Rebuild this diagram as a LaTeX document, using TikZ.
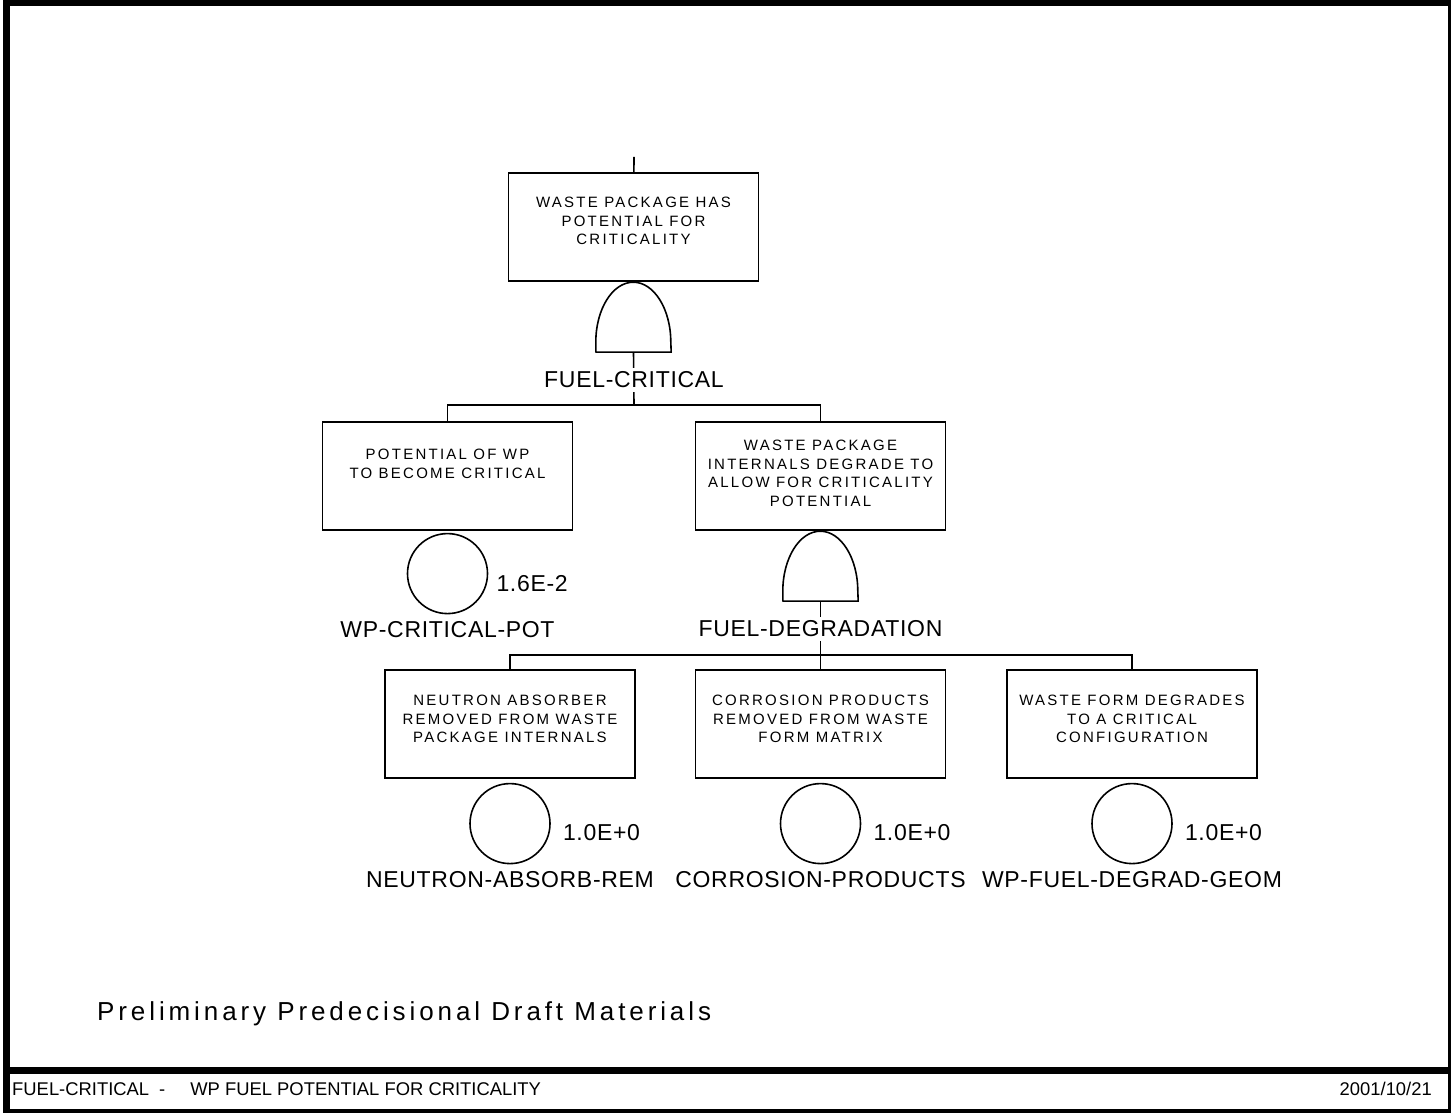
\documentclass[tikz,border=0pt]{standalone}
\usepackage{fontspec}
\setmainfont{Liberation Sans}
\newfontfamily\boxfont[LetterSpace=15]{Liberation Sans}
\newfontfamily\tagfont[LetterSpace=3]{Liberation Sans}
\newfontfamily\draftfont[LetterSpace=15]{Liberation Sans}
\usetikzlibrary{positioning,backgrounds}

\begin{document}
\begin{tikzpicture}[x=1pt,y=1pt,
    evbox/.style={draw, line width=1.6pt, minimum width=250pt, minimum height=108pt, inner sep=0pt},
    gatebox/.style={minimum width=75pt, minimum height=70pt, inner sep=0pt},
    gateline/.style={draw, line width=1.6pt, line join=round},
    basic/.style={draw, circle, line width=1.6pt, minimum size=80pt, inner sep=0pt},
    boxtext/.style={font=\boxfont\fontsize{15}{18.5}\selectfont, align=center, inner sep=0pt},
    tag/.style={font=\tagfont\fontsize{23}{26}\selectfont, fill=white, inner sep=4pt},
    prob/.style={font=\tagfont\fontsize{23}{26}\selectfont, inner sep=0pt},
    sheet/.style={font=\fontsize{18.4}{20}\selectfont, inner sep=0pt},
    wire/.style={line width=1.6pt},
    frame/.style={line width=7pt}]
  \useasboundingbox (0,0) rectangle (1451,1112);

  % sheet frame and footer
  \draw[frame] (6.5,0) rectangle (1451,1109.5);
  \draw[frame] (6.5,41.5) -- (1451,41.5);
  \node[sheet, anchor=base west] (sheettitle) at (12,17)
    {FUEL-CRITICAL\hspace{10pt}-\hspace{25pt}WP FUEL POTENTIAL FOR CRITICALITY};
  \node[sheet, anchor=base east] (sheetdate) at (1432,17) {2001/10/21};
  \node[font=\draftfont\fontsize{26}{30}\selectfont, anchor=base west, inner sep=0pt] (draft) at (97,92)
    {Preliminary Predecisional Draft Materials};

  % top event
  \coordinate (topin) at (634,955);
  \node[evbox] (wpcrit) at (633.5,885) {};
  \node[boxtext, below=25pt of wpcrit.north] (wpcrittxt) {WASTE PACKAGE HAS\\POTENTIAL FOR\\CRITICALITY};
  \node[gatebox, below=0pt of wpcrit] (andcrit) {};
  \node[tag] (fuelcrit) at (634,732) {FUEL-CRITICAL};
  \coordinate (barcrit) at (634,707);

  % second level
  \node[evbox] (potwp) at (447.5,636) {};
  \node[boxtext, below=28pt of potwp.north] (potwptxt) {POTENTIAL OF WP\\TO BECOME CRITICAL};
  \node[basic, below=2pt of potwp] (critpot) {};
  \node[prob, right=8pt of critpot, yshift=-10pt] (critpotp) {1.6E-2};
  \node[tag, below=3pt of critpot] (critpotid) {WP-CRITICAL-POT};

  \node[evbox] (degrade) at (820.5,636) {};
  \node[boxtext, below=19pt of degrade.north] (degradetxt) {WASTE PACKAGE\\INTERNALS DEGRADE TO\\ALLOW FOR CRITICALITY\\POTENTIAL};
  \node[gatebox, below=0pt of degrade] (anddeg) {};
  \node[tag] (fueldeg) at (820.5,483) {FUEL-DEGRADATION};
  \coordinate (bardeg) at (820.5,457);

  % basic events
  \node[evbox] (neutron) at (510,388) {};
  \node[boxtext, below=26pt of neutron.north] (neutrontxt) {NEUTRON ABSORBER\\REMOVED FROM WASTE\\PACKAGE INTERNALS};
  \node[basic, below=4pt of neutron] (neutronev) {};
  \node[prob, right=12pt of neutronev, yshift=-9pt] (neutronp) {1.0E+0};
  \node[tag, below=3pt of neutronev] (neutronid) {NEUTRON-ABSORB-REM};

  \node[evbox] (corrosion) at (820.5,388) {};
  \node[boxtext, below=26pt of corrosion.north] (corrosiontxt) {CORROSION PRODUCTS\\REMOVED FROM WASTE\\FORM MATRIX};
  \node[basic, below=4pt of corrosion] (corrosionev) {};
  \node[prob, right=12pt of corrosionev, yshift=-9pt] (corrosionp) {1.0E+0};
  \node[tag, below=3pt of corrosionev] (corrosionid) {CORROSION-PRODUCTS};

  \node[evbox] (wfgeom) at (1132,388) {};
  \node[boxtext, below=26pt of wfgeom.north] (wfgeomtxt) {WASTE FORM DEGRADES\\TO A CRITICAL\\CONFIGURATION};
  \node[basic, below=4pt of wfgeom] (wfgeomev) {};
  \node[prob, right=12pt of wfgeomev, yshift=-9pt] (wfgeomp) {1.0E+0};
  \node[tag, below=3pt of wfgeomev] (wfgeomid) {WP-FUEL-DEGRAD-GEOM};

  % and gates
  \draw[gateline] (andcrit.south west) -- ++(0,10)
    arc[start angle=180, end angle=0, x radius=37.5, y radius=60] -- (andcrit.south east) -- cycle;
  \draw[gateline] (anddeg.south west) -- ++(0,10)
    arc[start angle=180, end angle=0, x radius=37.5, y radius=60] -- (anddeg.south east) -- cycle;

  % connectors
  \begin{scope}[on background layer]
    \draw[wire] (topin) -- (wpcrit);
    \draw[wire] (andcrit.south) -- (barcrit);
    \draw[wire] (barcrit) -| (potwp.north);
    \draw[wire] (barcrit) -| (degrade.north);
    \draw[wire] (anddeg.south) -- (bardeg);
    \draw[wire] (bardeg) -| (neutron.north);
    \draw[wire] (bardeg) -- (corrosion.north);
    \draw[wire] (bardeg) -| (wfgeom.north);
  \end{scope}
\end{tikzpicture}
\end{document}
